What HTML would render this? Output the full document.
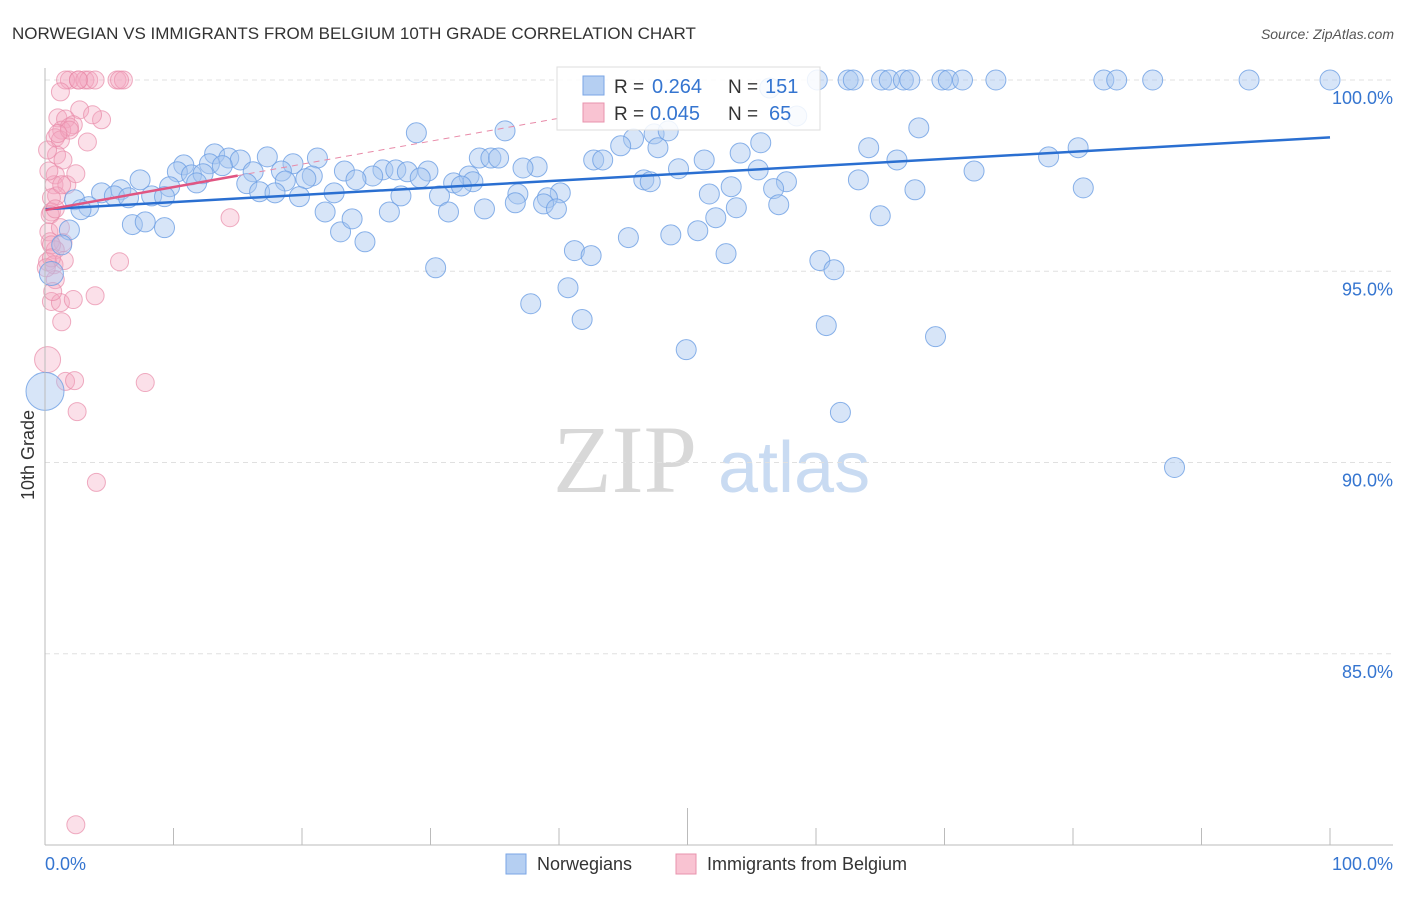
<!DOCTYPE html>
<html><head><meta charset="utf-8"><style>
body{margin:0;background:#fff;font-family:"Liberation Sans",sans-serif;}
svg text{font-family:"Liberation Sans",sans-serif;}
</style></head><body>
<svg id="chart" width="1406" height="892" xmlns="http://www.w3.org/2000/svg">
<text x="12" y="39" font-size="17" fill="#333">NORWEGIAN VS IMMIGRANTS FROM BELGIUM 10TH GRADE CORRELATION CHART</text>
<text x="1394" y="39" font-size="14" fill="#555" text-anchor="end" font-style="italic">Source: ZipAtlas.com</text>
<g>
<text x="553" y="492" font-size="96" fill="#d8d8d8" font-family="Liberation Serif" style="font-family:'Liberation Serif',serif">ZIP</text>
<text x="718" y="492" font-size="72" fill="#c9dbf2">atlas</text>
</g>
<g id="grid"></g>
<g id="pts"></g>
<g id="lines"></g>
<g id="axes"></g>
<text transform="translate(34,455) rotate(-90)" font-size="18" fill="#333" text-anchor="middle">10th Grade</text>
<g>
<rect x="557" y="67" width="263" height="63" fill="#fff" fill-opacity="0.85" stroke="#ddd"/>
<rect x="583" y="76" width="21" height="19" fill="#b5cff2" stroke="#7aa6e6"/>
<text x="614" y="93" font-size="19" fill="#333">R = </text><text x="652" y="93" font-size="20" fill="#3575d0">0.264</text>
<text x="728" y="93" font-size="19" fill="#333">N = </text><text x="765" y="93" font-size="20" fill="#3575d0">151</text>
<rect x="583" y="103" width="21" height="19" fill="#f9c3d2" stroke="#e893ad"/>
<text x="614" y="120" font-size="19" fill="#333">R = </text><text x="650" y="120" font-size="20" fill="#3575d0">0.045</text>
<text x="728" y="120" font-size="19" fill="#333">N = </text><text x="769" y="120" font-size="20" fill="#3575d0">65</text>
</g>
<g>
<rect x="506" y="854" width="20" height="20" fill="#b5cff2" stroke="#7aa6e6"/>
<text x="537" y="870" font-size="18" fill="#333">Norwegians</text>
<rect x="676" y="854" width="20" height="20" fill="#f9c3d2" stroke="#e893ad"/>
<text x="707" y="870" font-size="18" fill="#333">Immigrants from Belgium</text>
</g>
</svg>
<script>
const blueX=[60.1,62.5,62.9,65.1,65.7,66.8,67.3,69.8,70.3,71.4,74.0,82.4,83.4,86.2,93.7,100.0,56.4,58.5,28.9,35.8,68.0,47.4,48.5,45.8,44.8,55.7,64.1,80.4,47.7,13.2,14.3,15.2,17.3,21.2,33.8,34.7,35.3,42.7,43.4,54.1,78.1,51.3,66.3,10.8,12.8,13.8,19.3,23.3,26.3,27.3,28.2,29.8,38.3,37.2,49.3,55.5,72.3,10.3,11.4,12.3,16.2,18.4,25.5,20.8,20.3,24.2,29.2,33.0,33.3,46.6,47.1,31.8,32.4,63.3,11.8,15.7,18.7,9.7,7.4,53.4,57.7,56.7,80.8,67.7,5.9,4.4,5.4,6.5,8.3,9.3,16.7,17.9,19.8,22.5,27.7,36.8,40.1,39.1,30.7,51.7,2.3,3.4,2.8,38.8,36.6,39.8,31.4,34.2,26.8,21.8,53.8,57.1,52.2,65.0,6.8,7.8,9.3,23.0,23.9,1.9,1.3,24.9,41.2,42.5,45.4,48.7,50.8,53.0,60.3,61.4,30.4,40.7,37.8,41.8,49.9,60.8,69.3,61.9,87.9,0.0,0.5];
const blueY=[100,100,100,100,100,100,100,100,100,100,100,100,100,100,100,100,99.79,99.06,98.62,98.67,98.75,98.59,98.67,98.46,98.28,98.36,98.23,98.23,98.23,98.07,97.96,97.91,97.99,97.96,97.96,97.96,97.96,97.91,97.91,98.09,97.99,97.91,97.91,97.78,97.81,97.76,97.81,97.62,97.65,97.65,97.60,97.62,97.73,97.70,97.68,97.65,97.62,97.60,97.52,97.55,97.60,97.62,97.49,97.49,97.42,97.39,97.44,97.49,97.34,97.39,97.34,97.31,97.23,97.39,97.31,97.29,97.36,97.21,97.39,97.21,97.34,97.16,97.18,97.13,97.13,97.05,96.97,96.92,96.97,96.95,97.08,97.05,96.95,97.05,96.97,97.02,97.05,96.92,96.97,97.02,96.87,96.69,96.61,96.76,96.79,96.63,96.55,96.63,96.55,96.55,96.66,96.74,96.40,96.45,96.22,96.29,96.14,96.03,96.37,96.08,95.69,95.77,95.54,95.41,95.88,95.95,96.06,95.46,95.28,95.04,95.09,94.57,94.15,93.74,92.95,93.58,93.29,91.31,89.87,91.86,94.94];
const blueSize=blueX.map((x,i)=>i===blueX.length-2?19:(i===blueX.length-1?12:10));
const pinkX=[1.9,1.6,2.6,3.1,3.4,3.9,2.6,5.6,6.1,5.8,1.2,2.7,4.4,3.7,1.0,1.6,2.2,1.3,1.9,3.3,0.8,1.2,0.9,1.4,0.8,0.7,1.7,2.4,0.9,0.5,0.5,0.4,0.3,1.2,0.4,1.4,0.8,0.2,0.7,1.5,5.8,0.8,0.5,1.2,2.2,3.9,1.3,0.2,1.6,2.3,7.8,2.5,4.0,2.4,14.4,0.2,0.3,0.5,0.8,1.3,0.5,0.1,0.6,1.9,1.0];
const pinkY=[100,100,100,100,100,100,100,100,100,100,99.69,99.22,98.96,99.09,99.01,98.98,98.83,98.69,98.77,98.38,98.49,98.43,98.04,97.91,97.52,97.26,97.26,97.55,96.97,96.92,96.55,96.48,96.03,96.14,95.77,95.75,95.56,95.25,95.17,95.28,95.25,94.78,94.21,94.18,94.26,94.36,93.68,92.69,92.12,92.14,92.09,91.33,89.48,80.53,96.40,98.17,97.62,95.69,96.63,97.26,95.35,95.09,94.47,98.69,98.60];
const pinkSize=pinkX.map((x,i)=>i===47?13:9);
const yTicks=[100,95,90,85];
const yTickLabels=["100.0%","95.0%","90.0%","85.0%"];
const blueLine=[0,96.62,100,98.50];
const pinkLine=[0,96.6,15,97.5];
const pinkDash=[15,97.5,40,99.0];
const X0=45,X1=1330,Y0=80,Y1=845,YMIN=80,YMAX=100;
const sx=v=>X0+(v/100)*(X1-X0);
const sy=v=>Y0+(YMAX-v)/(YMAX-YMIN)*(Y1-Y0);
const NS="http://www.w3.org/2000/svg";
function mk(tag,parent,attrs){const e=document.createElementNS(NS,tag);for(const k in attrs)e.setAttribute(k,attrs[k]);parent.appendChild(e);return e;}
const grid=document.getElementById('grid'),axes=document.getElementById('axes'),pts=document.getElementById('pts'),lines=document.getElementById('lines');
yTicks.forEach((t,i)=>{
 const g=mk('line',grid,{x1:X0,x2:1393,y1:sy(t),y2:sy(t),stroke:'#e0e0e0','stroke-dasharray':'5,4'});
 
 
 const l=mk('text',axes,{x:1393,y:sy(t)+24,'font-size':18,fill:'#3575d0','text-anchor':'end'});
 l.textContent=yTickLabels[i];
 
 
});
const ax=mk('line',axes,{x1:X0,x2:X0,y1:68,y2:Y1,stroke:'#bbb'});


const bx=mk('line',axes,{x1:X0,x2:1393,y1:Y1,y2:Y1,stroke:'#bbb'});


for(let i=0;i<=10;i++){
 const tk=mk('line',axes,{x1:sx(i*10),x2:sx(i*10),y1:i===5?808:828,y2:Y1,stroke:'#bbb'});
 
 
}
const xl0=mk('text',axes,{x:45,y:870,'font-size':18,fill:'#3575d0'});xl0.textContent='0.0%';


const xl1=mk('text',axes,{x:1393,y:870,'font-size':18,fill:'#3575d0','text-anchor':'end'});xl1.textContent='100.0%';


pinkX.forEach((x,i)=>{
 const c=mk('circle',pts,{cx:sx(x),cy:sy(pinkY[i]),r:pinkSize[i],fill:'#f4a7bf','fill-opacity':0.35,stroke:'#e88aa8','stroke-opacity':0.7,'stroke-width':1});
 
 
});
blueX.forEach((x,i)=>{
 const c=mk('circle',pts,{cx:sx(x),cy:sy(blueY[i]),r:blueSize[i],fill:'#a7c6f0','fill-opacity':0.45,stroke:'#6d9fe3','stroke-opacity':0.8,'stroke-width':1});
 
 
});
const bl=mk('line',lines,{x1:sx(blueLine[0]),y1:sy(blueLine[1]),x2:sx(blueLine[2]),y2:sy(blueLine[3]),stroke:'#2a6fd1','stroke-width':2.5});


const pl=mk('line',lines,{x1:sx(pinkLine[0]),y1:sy(pinkLine[1]),x2:sx(pinkLine[2]),y2:sy(pinkLine[3]),stroke:'#e05582','stroke-width':2.5});


const pd=mk('line',lines,{x1:sx(pinkDash[0]),y1:sy(pinkDash[1]),x2:sx(pinkDash[2]),y2:sy(pinkDash[3]),stroke:'#e88aa8','stroke-width':1,'stroke-dasharray':'6,5'});


</script>
</body></html>
